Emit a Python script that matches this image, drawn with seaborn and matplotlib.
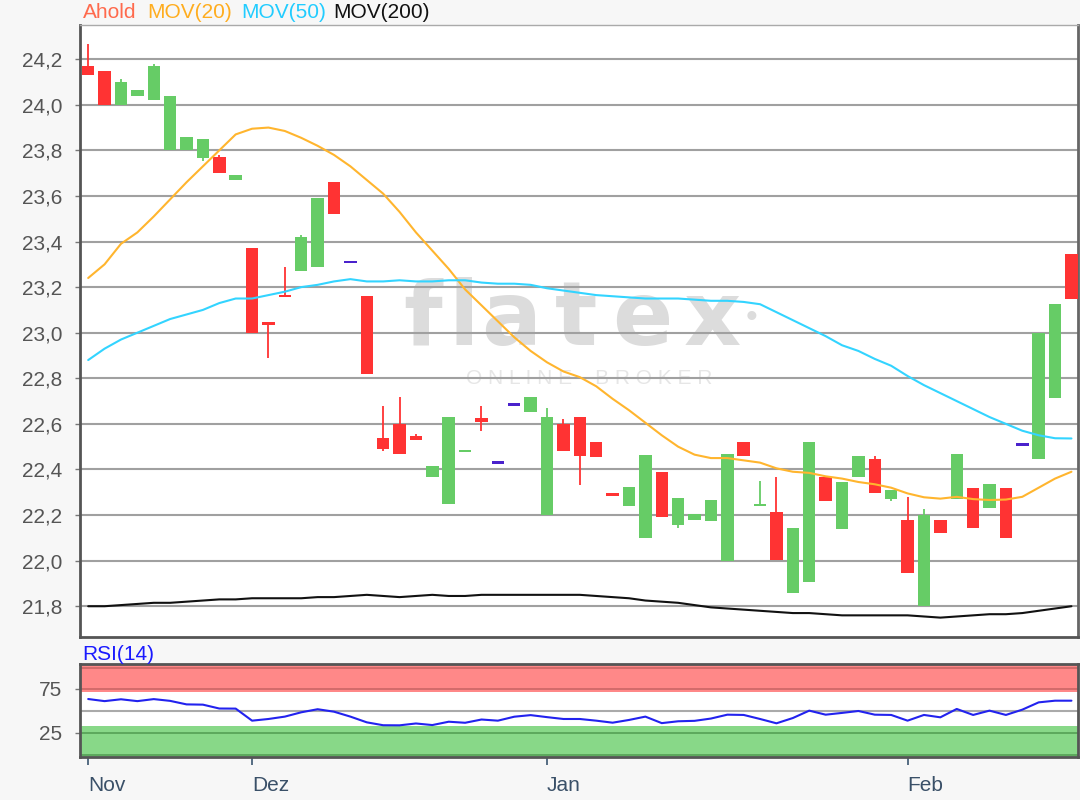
import matplotlib
matplotlib.use('Agg')
import matplotlib.pyplot as plt
import seaborn as sns
import numpy as np
import pandas as pd

# Kursdaten (ein Eintrag pro Handelstag, Index 0 = erster Tag)
opens = [24.17, 24.15, 24.00, 24.04, 24.02, 23.80, 23.80, 23.765, 23.77, 23.67,
         23.37, 23.045, 23.165, 23.27, 23.29, 23.66, 23.31, 23.16, 22.54, 22.60,
         22.545, 22.365, 22.25, 22.475, 22.625, 22.43, 22.685, 22.65, 22.20, 22.60,
         22.63, 22.52, 22.295, 22.24, 22.10, 22.39, 22.155, 22.18, 22.175, 22.00,
         22.52, 22.243, 22.215, 21.86, 21.905, 22.365, 22.14, 22.365, 22.445, 22.27,
         22.18, 21.80, 22.18, 22.27, 22.32, 22.23, 22.32, 22.51, 22.445, 22.715,
         23.345]
highs = [24.265, 24.15, 24.115, 24.065, 24.18, 24.04, 23.86, 23.85, 23.78, 23.69,
         23.37, 23.045, 23.29, 23.43, 23.59, 23.66, 23.31, 23.16, 22.68, 22.72,
         22.555, 22.415, 22.63, 22.485, 22.68, 22.43, 22.685, 22.72, 22.67, 22.62,
         22.63, 22.52, 22.295, 22.325, 22.465, 22.39, 22.275, 22.205, 22.265, 22.47,
         22.52, 22.35, 22.365, 22.145, 22.52, 22.365, 22.345, 22.46, 22.46, 22.31,
         22.28, 22.225, 22.18, 22.47, 22.32, 22.335, 22.32, 22.51, 23.00, 23.125,
         23.345]
lows = [24.13, 24.00, 24.00, 24.04, 24.02, 23.80, 23.80, 23.755, 23.70, 23.67,
        23.00, 22.89, 23.155, 23.27, 23.29, 23.52, 23.31, 22.82, 22.48, 22.47,
        22.53, 22.365, 22.25, 22.475, 22.57, 22.43, 22.685, 22.65, 22.20, 22.48,
        22.33, 22.455, 22.285, 22.24, 22.10, 22.19, 22.145, 22.18, 22.175, 22.00,
        22.46, 22.243, 22.005, 21.86, 21.905, 22.26, 22.14, 22.365, 22.295, 22.26,
        21.945, 21.80, 22.12, 22.27, 22.145, 22.23, 22.10, 22.51, 22.445, 22.715,
        23.15]
closes = [24.13, 24.00, 24.10, 24.065, 24.17, 24.04, 23.86, 23.85, 23.70, 23.69,
          23.00, 23.035, 23.155, 23.42, 23.59, 23.52, 23.31, 22.82, 22.49, 22.47,
          22.53, 22.415, 22.63, 22.485, 22.61, 22.43, 22.685, 22.72, 22.63, 22.48,
          22.46, 22.455, 22.285, 22.325, 22.465, 22.19, 22.275, 22.205, 22.265, 22.47,
          22.46, 22.248, 22.005, 22.145, 22.52, 22.26, 22.345, 22.46, 22.295, 22.31,
          21.945, 22.20, 22.12, 22.47, 22.145, 22.335, 22.10, 22.51, 23.00, 23.125,
          23.15]

mov20 = [23.24, 23.30, 23.39, 23.44, 23.51, 23.585, 23.66, 23.73, 23.80, 23.87,
         23.895, 23.90, 23.885, 23.855, 23.82, 23.78, 23.73, 23.67, 23.61, 23.53,
         23.44, 23.36, 23.28, 23.19, 23.12, 23.05, 22.98, 22.92, 22.87, 22.83,
         22.805, 22.765, 22.71, 22.66, 22.605, 22.55, 22.50, 22.465, 22.45, 22.45,
         22.44, 22.43, 22.405, 22.39, 22.385, 22.37, 22.36, 22.345, 22.335, 22.32,
         22.295, 22.278, 22.272, 22.28, 22.27, 22.266, 22.268, 22.28, 22.32, 22.36,
         22.39]
mov50 = [22.88, 22.93, 22.97, 23.00, 23.03, 23.06, 23.08, 23.10, 23.13, 23.15,
         23.15, 23.165, 23.18, 23.20, 23.21, 23.225, 23.235, 23.225, 23.225, 23.23,
         23.225, 23.225, 23.23, 23.23, 23.22, 23.215, 23.215, 23.21, 23.195, 23.185,
         23.175, 23.165, 23.16, 23.155, 23.15, 23.15, 23.15, 23.145, 23.14, 23.14,
         23.135, 23.125, 23.09, 23.055, 23.02, 22.985, 22.945, 22.92, 22.885, 22.855,
         22.81, 22.77, 22.735, 22.70, 22.665, 22.63, 22.60, 22.57, 22.55, 22.537,
         22.536]
mov200 = [21.80, 21.80, 21.805, 21.81, 21.815, 21.815, 21.82, 21.825, 21.83, 21.83,
          21.835, 21.835, 21.835, 21.835, 21.84, 21.84, 21.845, 21.85, 21.845, 21.84,
          21.845, 21.85, 21.845, 21.845, 21.85, 21.85, 21.85, 21.85, 21.85, 21.85,
          21.85, 21.845, 21.84, 21.835, 21.825, 21.82, 21.815, 21.805, 21.795, 21.79,
          21.785, 21.78, 21.775, 21.77, 21.77, 21.765, 21.76, 21.76, 21.76, 21.76,
          21.76, 21.755, 21.75, 21.755, 21.76, 21.765, 21.765, 21.77, 21.78, 21.79,
          21.80]
rsi14 = [63.6, 61.2, 63.3, 61.2, 63.5, 61.5, 57.5, 57.2, 52.8, 52.7,
         39.0, 40.9, 43.6, 48.5, 52.0, 49.2, 43.6, 37.1, 33.8, 33.7,
         35.8, 34.0, 37.8, 36.6, 40.3, 39.0, 43.5, 45.3, 43.0, 40.9,
         40.9, 39.0, 36.7, 39.8, 43.6, 36.2, 38.3, 38.8, 41.4, 45.8,
         45.5, 40.9, 36.0, 42.0, 50.4, 45.8, 47.8, 50.0, 45.8, 45.5,
         39.0, 45.5, 42.8, 52.3, 45.5, 50.4, 45.5, 51.5, 59.8, 61.7,
         61.7]

month_pos = [0, 10, 28, 50]
month_labels = ['Nov', 'Dez', 'Jan', 'Feb']
price_ticks = [21.8, 22.0, 22.2, 22.4, 22.6, 22.8, 23.0, 23.2, 23.4, 23.6, 23.8, 24.0, 24.2]
rsi_ticks = [25, 75]

UP, DOWN, FLAT = '#66cc66', '#ff3333', '#4a22cc'

df = pd.DataFrame({'open': opens, 'high': highs, 'low': lows, 'close': closes,
                   'mov20': mov20, 'mov50': mov50, 'mov200': mov200, 'rsi': rsi14})
df['day'] = np.arange(len(df))
df['color'] = np.where(df.close > df.open, UP, np.where(df.close < df.open, DOWN, FLAT))
min_h = 0.01
body = (df.close - df.open).abs()
df['body_h'] = body.clip(lower=min_h)
df['body_b'] = df[['open', 'close']].min(axis=1) - (df.body_h - body) / 2

sns.set_theme(style='white')
plt.rcParams['font.family'] = ['Liberation Sans', 'DejaVu Sans']

fig = plt.figure(figsize=(10.8, 8), dpi=100, facecolor='#f7f7f7')
ax = fig.add_axes([80 / 1080, 1 - 637 / 800, 998 / 1080, 612 / 800])
ax_rsi = fig.add_axes([80 / 1080, 1 - 757 / 800, 998 / 1080, 93 / 800])

# Hauptchart
ax.set_facecolor('white')
ax.set_xlim(-0.5, 60.4)
ax.set_ylim(21.665, 24.35)
ax.set_yticks(price_ticks)
ax.set_yticklabels([f'{v:.1f}'.replace('.', ',') for v in price_ticks])
ax.set_xticks([])
ax.yaxis.grid(True, color='#a0a0a0', lw=1.5, zorder=0)
ax.set_axisbelow(True)
ax.tick_params(axis='y', left=True, length=3.6, width=1, color='#777777',
               labelsize=15, labelcolor='#555555', pad=9)

# Wasserzeichen
wm = [('f', 0.343), ('l', 0.385), ('a', 0.432), ('t', 0.497), ('e', 0.563), ('x', 0.634)]
for ch, xx in wm:
    ax.text(xx, 0.477, ch, transform=ax.transAxes, fontsize=64, color='#dcdcdc',
            ha='center', va='baseline', family='DejaVu Sans', fontweight='bold', zorder=0.5)
ax.text(0.673, 0.52, '•', transform=ax.transAxes, fontsize=24, color='#dcdcdc',
        ha='center', va='center', zorder=0.5)
ax.text(0.51, 0.422, 'O N L I N E    B R O K E R', transform=ax.transAxes,
        fontsize=15, color='#e6e6e6', ha='center', va='center', zorder=0.5)

ax.vlines(df.day, df.low, df.high, colors=df.color, lw=1.3, zorder=2)
ax.bar(df.day, df.body_h, bottom=df.body_b, width=0.76, color=df.color,
       linewidth=0, zorder=3)

sns.lineplot(data=df, x='day', y='mov20', ax=ax, color='#ffb52e', lw=1.5, zorder=4)
sns.lineplot(data=df, x='day', y='mov50', ax=ax, color='#33d4ff', lw=1.5, zorder=4)
sns.lineplot(data=df, x='day', y='mov200', ax=ax, color='#111111', lw=1.5, zorder=4)
ax.set_xlabel('')
ax.set_ylabel('')

for side, col, w in [('left', '#555555', 2), ('bottom', '#555555', 2),
                     ('right', '#666666', 2), ('top', '#aaaaaa', 1)]:
    ax.spines[side].set_visible(True)
    ax.spines[side].set_color(col)
    ax.spines[side].set_linewidth(w)

# RSI
ax_rsi.set_facecolor('white')
ax_rsi.set_xlim(-0.5, 60.4)
ax_rsi.set_ylim(-2.3, 103.4)
ax_rsi.axhspan(72, 104, color='#ff8888', lw=0, zorder=0)
ax_rsi.axhspan(-3, 32.5, color='#88d888', lw=0, zorder=0)
for yv, c in [(99, '#cc6666'), (75, '#cc6666'), (25, '#55a055'), (0.5, '#55a055')]:
    ax_rsi.axhline(yv, color=c, lw=1.2, zorder=1)
ax_rsi.axhline(50, color='#aaaaaa', lw=1.5, zorder=1)
sns.lineplot(data=df, x='day', y='rsi', ax=ax_rsi, color='#2222ee', lw=1.5, zorder=3)
ax_rsi.set_xlabel('')
ax_rsi.set_ylabel('')
ax_rsi.set_yticks(rsi_ticks)
ax_rsi.set_yticklabels([str(v) for v in rsi_ticks])
ax_rsi.tick_params(axis='y', left=True, length=3.6, width=1, color='#777777',
                   labelsize=15, labelcolor='#555555', pad=9)
ax_rsi.set_xticks(month_pos)
ax_rsi.set_xticklabels(month_labels)
ax_rsi.tick_params(axis='x', bottom=True, length=6, width=1.2, color='#3a5570',
                   labelsize=15, labelcolor='#3a5068', pad=8)
for lab in ax_rsi.get_xticklabels():
    lab.set_ha('left')
for side in ['left', 'bottom', 'right', 'top']:
    ax_rsi.spines[side].set_visible(True)
    ax_rsi.spines[side].set_color('#555555')
    ax_rsi.spines[side].set_linewidth(2)

# Legendenzeile oben und RSI-Titel
for txt, xpx, col in [('Ahold', 83, '#ff6a4d'), ('MOV(20)', 147, '#ffad1f'),
                      ('MOV(50)', 241, '#22ccff'), ('MOV(200)', 333, '#111111')]:
    fig.text(xpx / 1080, 1 - 13 / 800, txt, color=col, fontsize=15, va='center', ha='left')
fig.text(82 / 1080, 1 - 654 / 800, 'RSI(14)', color='#1a1aff', fontsize=15,
         va='center', ha='left')

fig.savefig('out.png', dpi=100, facecolor=fig.get_facecolor())
